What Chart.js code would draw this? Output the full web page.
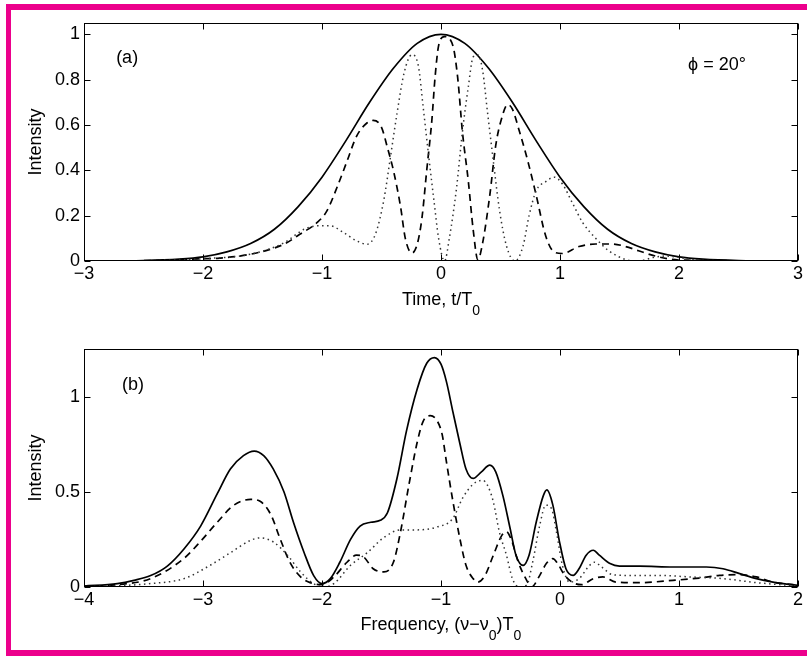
<!DOCTYPE html>
<html>
<head>
<meta charset="utf-8">
<script src="https://cdn.jsdelivr.net/npm/chart.js@4.4.1/dist/chart.umd.min.js"></script>
<style>
  html, body { margin: 0; padding: 0; background: #fff; overflow: hidden; }
  #page { position: relative; width: 807px; height: 657px; overflow: hidden; }
  .bar { position: absolute; background: #ec008c; }
  #barTop { left: 6px; top: 4px; width: 801px; height: 6px; }
  #barLeft { left: 6px; top: 4px; width: 5px; height: 652px; }
  #barBottom { left: 6px; top: 650px; width: 801px; height: 6px; }
  canvas { position: absolute; left: 0; }
  #chartA { top: 0; }
  #chartB { top: 320px; }
</style>
</head>
<body>
<div id="page">
  <div class="bar" id="barTop"></div>
  <div class="bar" id="barLeft"></div>
  <div class="bar" id="barBottom"></div>
  <canvas id="chartA" width="807" height="320"></canvas>
  <canvas id="chartB" width="807" height="337"></canvas>
</div>
<script>
// ---- panel (a): time domain ----
const timeTicks = [-3, -2, -1, 0, 1, 2, 3];
const intensityTicksA = [0, 0.2, 0.4, 0.6, 0.8, 1];

const aSolidT = [-3, -2.5, -2.2, -2, -1.8, -1.6, -1.4, -1.2, -1, -0.8, -0.6, -0.4, -0.2, 0, 0.2, 0.4, 0.6, 0.8, 1, 1.2, 1.4, 1.6, 1.8, 2, 2.2, 2.5, 3];
const aSolidI = [0, 0.002, 0.008, 0.018, 0.04, 0.077, 0.14, 0.24, 0.37, 0.53, 0.70, 0.85, 0.96, 1.0, 0.96, 0.85, 0.70, 0.53, 0.37, 0.24, 0.14, 0.077, 0.04, 0.018, 0.008, 0.002, 0];

const aDashT = [-3, -2.4, -2, -1.88, -1.6, -1.32, -1.18, -1.04, -0.96, -0.87, -0.79, -0.71, -0.62, -0.57, -0.5, -0.45, -0.4, -0.34, -0.3, -0.245, -0.2, -0.16, -0.12, -0.077, -0.05, -0.02, 0.03, 0.1, 0.14, 0.18, 0.23, 0.27, 0.31, 0.35, 0.41, 0.46, 0.51, 0.56, 0.6, 0.66, 0.73, 0.8, 0.88, 0.95, 1.02, 1.16, 1.3, 1.44, 1.55, 1.66, 1.8, 1.94, 2.1, 2.5, 3];
const aDashI = [0, 0.002, 0.01, 0.012, 0.03, 0.074, 0.12, 0.17, 0.22, 0.33, 0.44, 0.55, 0.61, 0.62, 0.59, 0.5, 0.4, 0.24, 0.1, 0.035, 0.074, 0.19, 0.4, 0.62, 0.81, 0.95, 0.99, 0.95, 0.81, 0.57, 0.35, 0.14, 0.005, 0.08, 0.29, 0.51, 0.63, 0.69, 0.67, 0.57, 0.44, 0.29, 0.11, 0.04, 0.033, 0.064, 0.075, 0.075, 0.064, 0.045, 0.022, 0.007, 0.003, 0.001, 0];

const aDotT = [-3, -2.4, -2, -1.6, -1.32, -1.15, -1.04, -0.93, -0.82, -0.71, -0.62, -0.55, -0.48, -0.43, -0.37, -0.31, -0.245, -0.19, -0.15, -0.105, -0.06, -0.02, 0.03, 0.07, 0.13, 0.18, 0.23, 0.27, 0.31, 0.35, 0.39, 0.44, 0.49, 0.55, 0.62, 0.69, 0.74, 0.8, 0.88, 0.95, 1.02, 1.11, 1.19, 1.3, 1.41, 1.55, 1.66, 1.78, 1.89, 2, 2.17, 2.5, 3];
const aDotI = [0, 0.002, 0.01, 0.03, 0.08, 0.14, 0.155, 0.155, 0.126, 0.089, 0.074, 0.12, 0.27, 0.44, 0.65, 0.83, 0.91, 0.86, 0.68, 0.47, 0.27, 0.1, 0, 0.1, 0.32, 0.57, 0.77, 0.9, 0.91, 0.84, 0.66, 0.44, 0.23, 0.067, 0, 0.067, 0.2, 0.31, 0.35, 0.37, 0.34, 0.25, 0.17, 0.1, 0.045, 0.007, 0, 0.015, 0.022, 0.015, 0.004, 0.001, 0];

// ---- panel (b): spectrum ----
const freqTicks = [-4, -3, -2, -1, 0, 1, 2];
const intensityTicksB = [0, 0.5, 1];

const bSolidF = [-4, -3.72, -3.58, -3.44, -3.3, -3.16, -3.02, -2.88, -2.77, -2.66, -2.57, -2.49, -2.41, -2.32, -2.24, -2.15, -2.07, -2, -1.93, -1.85, -1.76, -1.68, -1.59, -1.51, -1.45, -1.37, -1.29, -1.2, -1.12, -1.055, -1, -0.955, -0.9, -0.84, -0.79, -0.73, -0.66, -0.59, -0.54, -0.48, -0.42, -0.37, -0.31, -0.26, -0.2, -0.14, -0.11, -0.06, -0.005, 0.05, 0.11, 0.16, 0.22, 0.28, 0.33, 0.42, 0.5, 0.67, 0.95, 1.23, 1.37, 1.51, 1.65, 1.79, 1.95, 2];
const bSolidI = [0.005, 0.018, 0.035, 0.06, 0.11, 0.2, 0.32, 0.49, 0.62, 0.69, 0.714, 0.69, 0.62, 0.5, 0.34, 0.18, 0.06, 0.018, 0.044, 0.13, 0.25, 0.32, 0.34, 0.35, 0.39, 0.57, 0.82, 1.04, 1.175, 1.205, 1.17, 1.08, 0.92, 0.75, 0.62, 0.57, 0.605, 0.64, 0.605, 0.48, 0.31, 0.167, 0.114, 0.167, 0.34, 0.48, 0.51, 0.43, 0.24, 0.096, 0.061, 0.096, 0.167, 0.193, 0.167, 0.123, 0.11, 0.11, 0.105, 0.105, 0.096, 0.07, 0.044, 0.026, 0.012, 0.009];

const bDashF = [-4, -3.72, -3.44, -3.16, -3.02, -2.88, -2.74, -2.6, -2.52, -2.43, -2.35, -2.27, -2.18, -2.1, -2, -1.9, -1.79, -1.71, -1.65, -1.57, -1.48, -1.4, -1.34, -1.27, -1.2, -1.15, -1.09, -1.03, -0.99, -0.955, -0.9, -0.84, -0.79, -0.73, -0.69, -0.63, -0.56, -0.49, -0.45, -0.41, -0.35, -0.28, -0.24, -0.17, -0.115, -0.06, -0.02, 0.04, 0.11, 0.18, 0.28, 0.36, 0.47, 0.67, 0.95, 1.17, 1.34, 1.51, 1.65, 1.79, 2];
const bDashI = [0.003, 0.012, 0.044, 0.15, 0.24, 0.34, 0.43, 0.46, 0.45, 0.38, 0.25, 0.13, 0.053, 0.023, 0.012, 0.053, 0.13, 0.167, 0.158, 0.096, 0.079, 0.13, 0.29, 0.535, 0.76, 0.87, 0.9, 0.87, 0.8, 0.66, 0.45, 0.25, 0.114, 0.044, 0.026, 0.061, 0.167, 0.27, 0.29, 0.25, 0.13, 0.035, 0, 0.061, 0.123, 0.149, 0.123, 0.061, 0.023, 0.012, 0.044, 0.053, 0.026, 0.023, 0.035, 0.047, 0.061, 0.065, 0.053, 0.026, 0.009];

const bDotF = [-4, -3.44, -3.16, -2.94, -2.77, -2.6, -2.52, -2.41, -2.29, -2.18, -2.07, -1.99, -1.9, -1.76, -1.62, -1.48, -1.34, -1.2, -1.03, -0.9, -0.82, -0.73, -0.65, -0.61, -0.56, -0.51, -0.45, -0.4, -0.34, -0.28, -0.23, -0.17, -0.12, -0.07, -0.03, 0.02, 0.08, 0.16, 0.25, 0.29, 0.35, 0.44, 0.55, 0.81, 1.09, 1.37, 1.65, 2];
const bDotI = [0, 0.018, 0.044, 0.114, 0.18, 0.245, 0.258, 0.237, 0.167, 0.079, 0.018, 0, 0.018, 0.114, 0.18, 0.26, 0.3, 0.3, 0.316, 0.36, 0.465, 0.54, 0.56, 0.535, 0.447, 0.29, 0.167, 0.044, 0, 0.01, 0.13, 0.325, 0.43, 0.41, 0.29, 0.114, 0.026, 0.044, 0.114, 0.13, 0.105, 0.065, 0.061, 0.061, 0.053, 0.044, 0.023, 0.005];

const FONT = "'Liberation Sans', Arial, sans-serif";
Chart.defaults.font.family = FONT;
Chart.defaults.font.size = 18;
Chart.defaults.color = '#000';

function pts(xs, ys) {
    return xs.map((v, i) => ({ x: v, y: ys[i] }));
}

function minus(v) {
    return String(v).replace('-', '\u2212');
}

function lineSet(xs, ys, style) {
    const base = {
        data: pts(xs, ys),
        borderColor: '#000',
        borderWidth: 1.7,
        pointRadius: 0,
        fill: false,
        cubicInterpolationMode: 'monotone'
    };
    if (style === 'dash') {
        base.borderDash = [7, 5];
    }
    if (style === 'dot') {
        base.borderColor = '#333';
        base.borderWidth = 1.5;
        base.borderDash = [1.5, 3.5];
    }
    return base;
}

// draws the matlab style box, inward ticks, subscripted x label and notes
const framePlugin = {
    id: 'frame',
    afterDraw(chart, args, opts) {
        const ctx = chart.ctx;
        const a = chart.chartArea;
        const x = chart.scales.x, y = chart.scales.y;
        const L = Math.round(a.left) + 0.5, R = Math.round(a.right) - 0.5;
        const T = Math.round(a.top) + 0.5, B = Math.round(a.bottom) - 0.5;
        const tl = 6;
        ctx.save();
        ctx.strokeStyle = '#000';
        ctx.lineWidth = 1;
        ctx.strokeRect(L, T, R - L, B - T);
        ctx.beginPath();
        x.ticks.forEach(t => {
            const px = Math.round(x.getPixelForValue(t.value)) + 0.5;
            ctx.moveTo(px, B); ctx.lineTo(px, B - tl);
            ctx.moveTo(px, T); ctx.lineTo(px, T + tl);
        });
        y.ticks.forEach(t => {
            const py = Math.round(y.getPixelForValue(t.value)) + 0.5;
            ctx.moveTo(L, py); ctx.lineTo(L + tl, py);
            ctx.moveTo(R, py); ctx.lineTo(R - tl, py);
        });
        ctx.stroke();

        // x axis title with subscripts
        ctx.fillStyle = '#000';
        ctx.textBaseline = 'alphabetic';
        ctx.textAlign = 'left';
        const mainFont = '18px ' + FONT, subFont = '14px ' + FONT;
        let w = 0;
        opts.title.forEach(p => {
            ctx.font = p[1] ? subFont : mainFont;
            w += ctx.measureText(p[0]).width;
        });
        let cx = (a.left + a.right) / 2 - w / 2;
        const base = a.bottom + opts.titleOffset;
        opts.title.forEach(p => {
            ctx.font = p[1] ? subFont : mainFont;
            ctx.fillText(p[0], cx, p[1] ? base + 10 : base);
            cx += ctx.measureText(p[0]).width;
        });

        // text notes placed in data coordinates
        ctx.font = mainFont;
        ctx.textBaseline = 'middle';
        opts.notes.forEach(n => {
            ctx.fillText(n.text, x.getPixelForValue(n.x), y.getPixelForValue(n.y));
        });
        ctx.restore();
    }
};

function makeChart(id, cfg) {
    return new Chart(document.getElementById(id), {
        type: 'line',
        data: { datasets: cfg.datasets },
        options: {
            responsive: false,
            animation: false,
            layout: { padding: { top: cfg.top, right: 9, left: 0, bottom: 0 } },
            plugins: {
                legend: { display: false },
                tooltip: { enabled: false },
                frame: { title: cfg.title, titleOffset: cfg.titleOffset, notes: cfg.notes }
            },
            scales: {
                x: {
                    type: 'linear',
                    min: cfg.xTicks[0],
                    max: cfg.xTicks[cfg.xTicks.length - 1],
                    afterBuildTicks: s => { s.ticks = cfg.xTicks.map(v => ({ value: v })); },
                    afterFit: s => { s.height = cfg.xHeight; },
                    grid: { display: false, drawTicks: false },
                    border: { display: false },
                    ticks: { padding: 2, maxRotation: 0, autoSkip: false, callback: v => minus(v) }
                },
                y: {
                    type: 'linear',
                    min: 0,
                    max: cfg.yMax,
                    afterBuildTicks: s => { s.ticks = cfg.yTicks.map(v => ({ value: v })); },
                    afterFit: s => { s.width = 84; },
                    grid: { display: false, drawTicks: false },
                    border: { display: false },
                    ticks: { padding: 4, autoSkip: false, callback: v => minus(v) },
                    title: { display: true, text: 'Intensity', font: { size: 18 }, padding: { top: 25, bottom: 0 } }
                }
            }
        },
        plugins: [framePlugin]
    });
}

makeChart('chartA', {
    top: 23,
    xHeight: 59,
    yMax: 1.05,
    xTicks: timeTicks,
    yTicks: intensityTicksA,
    title: [['Time, t/T', false], ['0', true]],
    titleOffset: 44,
    notes: [{ text: '(a)', x: -2.73, y: 0.894 }, { text: '\u03D5 = 20\u00B0', x: 2.076, y: 0.863 }],
    datasets: [
        lineSet(aDotT, aDotI, 'dot'),
        lineSet(aDashT, aDashI, 'dash'),
        lineSet(aSolidT, aSolidI, 'solid')
    ]
});

makeChart('chartB', {
    top: 29,
    xHeight: 70,
    yMax: 1.25,
    xTicks: freqTicks,
    yTicks: intensityTicksB,
    title: [['Frequency, (\u03BD\u2212\u03BD', false], ['0', true], [')T', false], ['0', true]],
    titleOffset: 43,
    notes: [{ text: '(b)', x: -3.68, y: 1.063 }],
    datasets: [
        lineSet(bDotF, bDotI, 'dot'),
        lineSet(bDashF, bDashI, 'dash'),
        lineSet(bSolidF, bSolidI, 'solid')
    ]
});
</script>
</body>
</html>
